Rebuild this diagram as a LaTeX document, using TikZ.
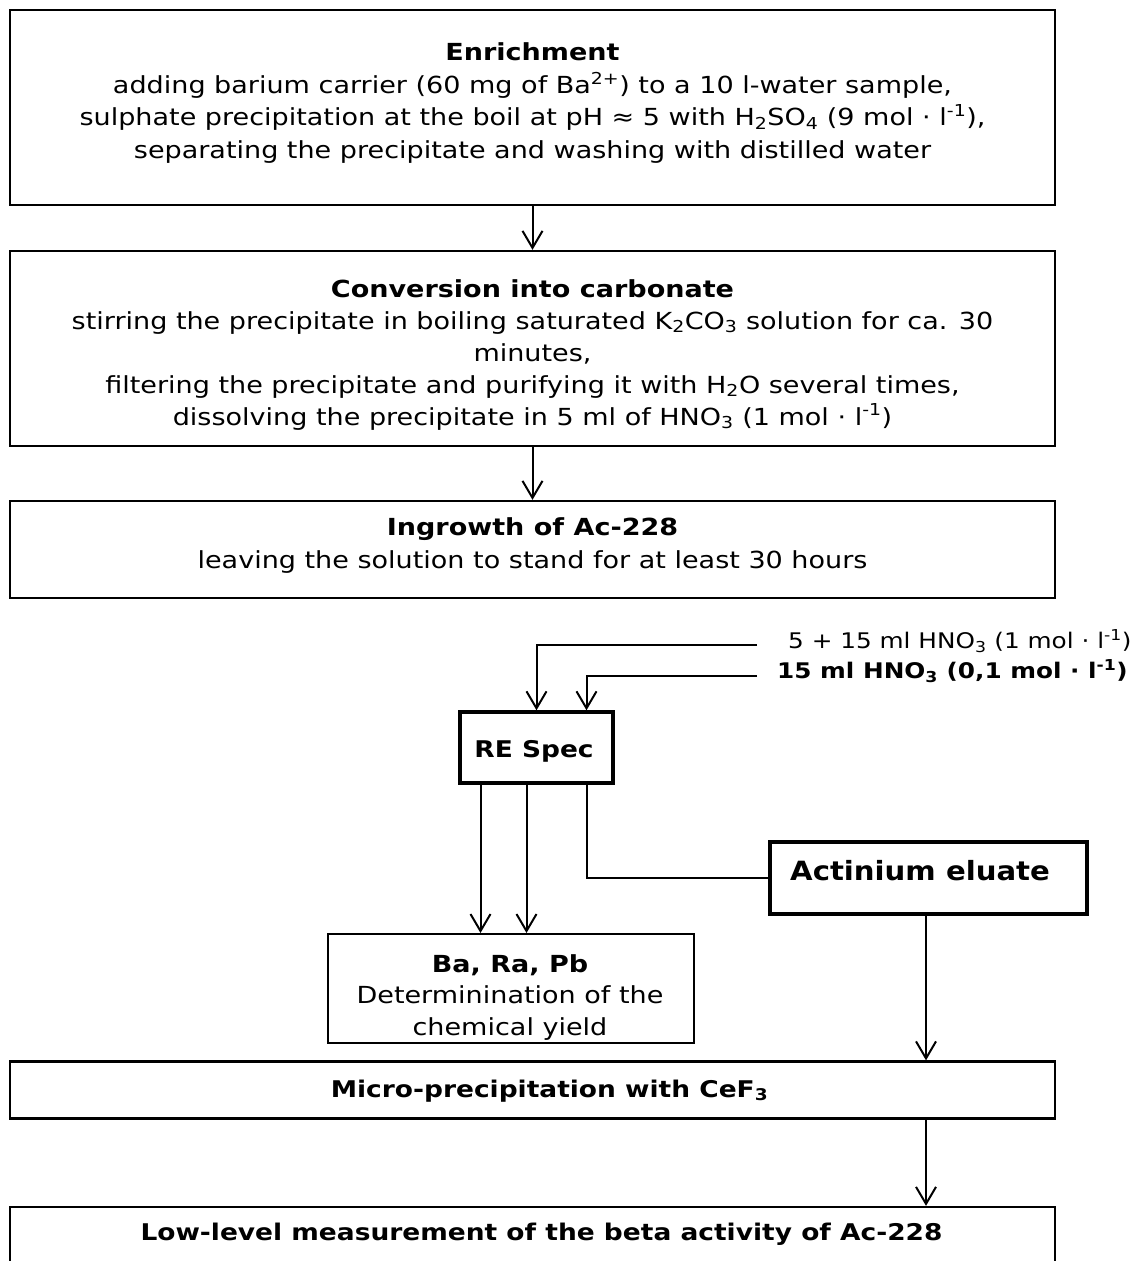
\documentclass[tikz,border=0pt]{standalone}
\usepackage{fontspec}
\setmainfont{DejaVu Sans}[FakeStretch=1.15]
\newfontfamily\actfont{DejaVu Sans}[FakeStretch=1.1]
\usetikzlibrary{arrows.meta}
\newcommand{\sub}[1]{\textsubscript{#1}}
\newcommand{\sups}[1]{\textsuperscript{#1}}
\begin{document}
\begin{tikzpicture}[x=1pt,y=-1pt,
  bigbox/.style={draw, line width=2.3pt, inner sep=0pt},
  thickbox/.style={draw, line width=3.4pt, inner sep=0pt},
  txt/.style={inner sep=0pt, align=center, font=\fontsize{23.5}{32.4}\selectfont},
  bt/.style={txt, font=\fontsize{23}{32.4}\selectfont\bfseries},
  small/.style={inner sep=0pt, font=\fontsize{21.5}{30}\selectfont},
  conn/.style={line width=2pt},
  arr/.style={line width=2pt, -{Straight Barb[length=17pt, width=20pt]}}]
\useasboundingbox (0,0) rectangle (1136,1261);
\fill[white] (0,0) rectangle (1136,1261);

% boxes
\node[bigbox, minimum width=1045, minimum height=195] (b1) at (532.5,107.5) {};
\node[bigbox, minimum width=1045, minimum height=195] (b2) at (532.5,348.5) {};
\node[bigbox, minimum width=1045, minimum height=97] (b3) at (532.5,549.5) {};
\node[thickbox, minimum width=153, minimum height=71] (re) at (536.5,747.5) {};
\node[thickbox, minimum width=317, minimum height=72] (act) at (928.5,878) {};
\node[bigbox, line width=2pt, minimum width=366, minimum height=109] (ba) at (511,988.5) {};
\node[bigbox, minimum width=1045, minimum height=57] (mp) at (532.5,1090) {};
\node[bigbox, minimum width=1045, minimum height=70] (low) at (532.5,1242) {};

% texts (anchor base = baseline of the last line)
\node[txt, anchor=base] (t1) at (532.5,158) {\textbf{Enrichment}\\
adding barium carrier (60 mg of Ba\sups{2+}) to a 10 l-water sample,\\
sulphate precipitation at the boil at pH ≈ 5 with H\sub{2}SO\sub{4} (9 mol · l\sups{-1}),\\
separating the precipitate and washing with distilled water};
\node[txt, anchor=base, font=\fontsize{23.5}{32}\selectfont] (t2) at (532.5,425) {\textbf{Conversion into carbonate}\\
stirring the precipitate in boiling saturated K\sub{2}CO\sub{3} solution for ca. 30\\
minutes,\\
filtering the precipitate and purifying it with H\sub{2}O several times,\\
dissolving the precipitate in 5 ml of HNO\sub{3} (1 mol · l\sups{-1})};
\node[txt, anchor=base] (t3) at (532.5,568) {\textbf{Ingrowth of Ac-228}\\
leaving the solution to stand for at least 30 hours};
\node[small, anchor=base west] (l1) at (788,648) {5 + 15 ml HNO\sub{3} (1 mol · l\sups{-1})};
\node[small, anchor=base west] (l2) at (777,678) {\textbf{15 ml HNO\sub{3} (0,1 mol · l\sups{-1})}};
\node[bt, anchor=base] (tre) at (534,757) {RE Spec};
\node[inner sep=0pt, anchor=base west, font=\actfont\fontsize{26.5}{32}\selectfont\bfseries] (tact) at (790,880) {Actinium eluate};
\node[txt, anchor=base, font=\fontsize{23.5}{31.5}\selectfont] (tba) at (510,1035) {\textbf{Ba, Ra, Pb}\\
Determinination of the\\
chemical yield};
\node[bt, anchor=base] (tmp) at (549.5,1097) {Micro-precipitation with CeF\sub{3}};
\node[bt, anchor=base] (tlow) at (541.5,1240) {Low-level measurement of the beta activity of Ac-228};

% connectors
\coordinate (in1) at (757,645);
\coordinate (in2) at (757,676);
\draw[arr] (b1.south) -- (b2.north);
\draw[arr] (b2.south) -- (b3.north);
\draw[arr] (in1) -| (re.north);
\draw[arr] (in2) -| ([xshift=50pt]re.north);
\draw[arr] ([xshift=-56pt]re.south) -- ([xshift=-56pt]re.south |- ba.north);
\draw[arr] ([xshift=-10pt]re.south) -- ([xshift=-10pt]re.south |- ba.north);
\draw[conn] ([xshift=50pt]re.south) |- (act.west);
\draw[arr] ([xshift=-2.5pt]act.south) -- ([xshift=-2.5pt]act.south |- mp.north);
\draw[arr] ([xshift=-2.5pt]act.south |- mp.south) -- ([xshift=-2.5pt]act.south |- low.north);
\end{tikzpicture}
\end{document}
